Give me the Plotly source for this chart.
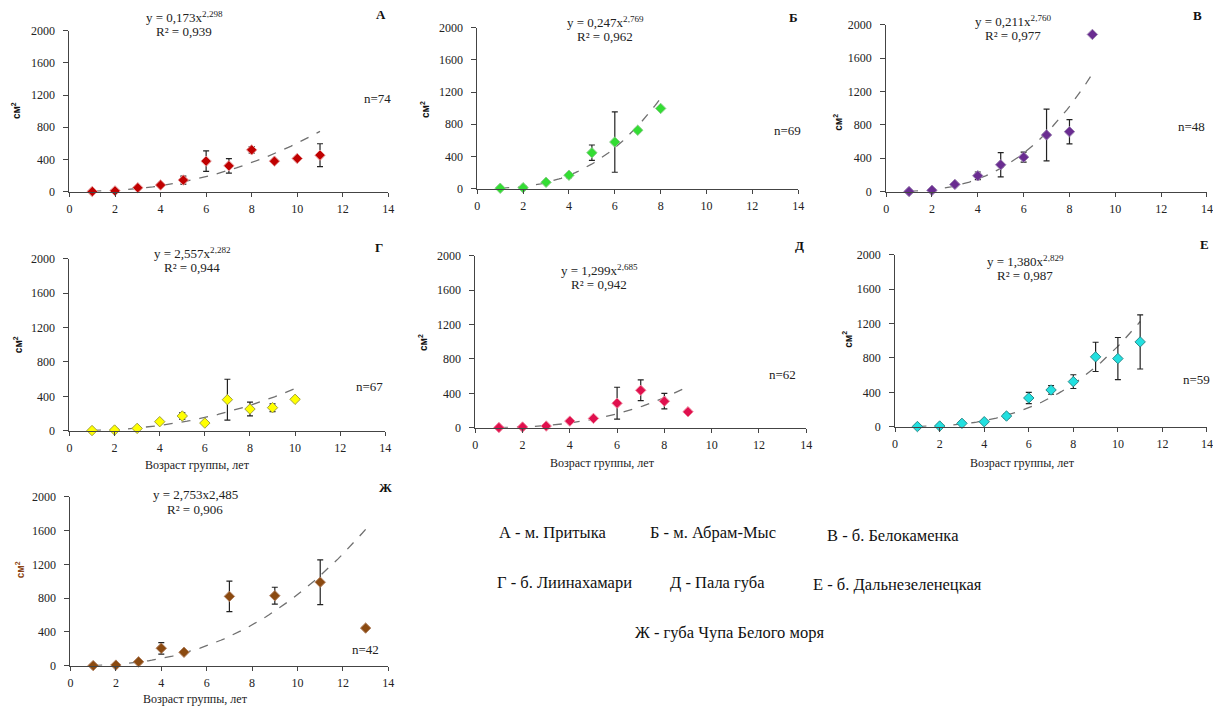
import numpy as np
import plotly.graph_objects as go

W, H = 1213, 709

# ---------------- data ----------------
ages_A = [1, 2, 3, 4, 5, 6, 7, 8, 9, 10, 11]
area_A = [2, 10, 49, 82, 144, 379, 321, 519, 379, 412, 453]
err_A = [0, 5, 10, 10, 50, 128, 90, 40, 0, 15, 142]

ages_B = [1, 2, 3, 4, 5, 6, 7, 8]
area_B = [5, 12, 79, 167, 446, 579, 725, 996]
err_B = [0, 0, 10, 30, 96, 375, 20, 0]

ages_V = [1, 2, 3, 4, 5, 6, 7, 8, 9]
area_V = [2, 16, 87, 190, 322, 413, 679, 718, 1882]
err_V = [0, 0, 10, 45, 145, 60, 310, 145, 0]

ages_G = [1, 2, 3, 4, 5, 6, 7, 8, 9, 10]
area_G = [2, 8, 27, 105, 171, 89, 361, 252, 268, 365]
err_G = [0, 0, 10, 10, 40, 0, 237, 80, 45, 0]

ages_D = [1, 2, 3, 4, 5, 6, 7, 8, 9]
area_D = [2, 8, 19, 77, 108, 285, 435, 308, 185]
err_D = [0, 0, 0, 15, 15, 185, 120, 90, 20]

ages_E = [1, 2, 3, 4, 5, 6, 7, 8, 9, 10, 11]
area_E = [2, 8, 39, 58, 124, 334, 427, 524, 812, 792, 986]
err_E = [0, 0, 10, 10, 25, 65, 50, 80, 170, 245, 315]

ages_Zh = [1, 2, 3, 4, 5, 7, 9, 11, 13]
area_Zh = [2, 8, 47, 207, 160, 821, 829, 989, 446]
err_Zh = [0, 0, 10, 68, 20, 180, 100, 265, 0]

# power trend y = a * x^b as drawn on each panel
trend_a = [3.03, 3.55, 3.28, 2.557, 1.31, 1.385, 2.753]
trend_b = [2.298, 2.769, 2.760, 2.282, 2.685, 2.829, 2.485]

letters = ["А", "Б", "В", "Г", "Д", "Е", "Ж"]
equations = ["y = 0,173x<sup>2,298</sup>", "y = 0,247x<sup>2,769</sup>",
             "y = 0,211x<sup>2,760</sup>", "y = 2,557x<sup>2,282</sup>",
             "y = 1,299x<sup>2,685</sup>", "y = 1,380x<sup>2,829</sup>",
             "y = 2,753x2,485"]
r2_labels = ["R² = 0,939", "R² = 0,962", "R² = 0,977", "R² = 0,944",
             "R² = 0,942", "R² = 0,987", "R² = 0,906"]
n_labels = ["n=74", "n=69", "n=48", "n=67", "n=62", "n=59", "n=42"]
colors = ["#C00000", "#33DD33", "#6A2C91", "#FFFF00", "#E0104E", "#22E0E0", "#8B4A10"]
outlines = ["#E8A0A0", "#88CC88", "#9A80B0", "#A0A040", "#F08AA0", "#2A8A8A", "#B08060"]
xtitle_text = "Возраст группы, лет"
ytitle_text = "<b>см<sup>2</sup></b>"
legend_lines = ["А - м. Притыка", "Б - м. Абрам-Мыс", "В - б. Белокаменка",
                "Г - б. Лиинахамари", "Д - Пала губа", "Е - б. Дальнезеленецкая",
                "Ж - губа Чупа Белого моря"]

ages = [ages_A, ages_B, ages_V, ages_G, ages_D, ages_E, ages_Zh]
areas = [area_A, area_B, area_V, area_G, area_D, area_E, area_Zh]
errs = [err_A, err_B, err_V, err_G, err_D, err_E, err_Zh]

# ---------------- layout geometry (target pixels in the 1213x709 picture) ----------------
boxes = [  # x0, x1, ytop, ybottom
    (67, 386, 31, 192),
    (475, 796, 28, 189),
    (884, 1205, 25, 192),
    (67, 383, 259, 431),
    (473, 804, 256, 428),
    (893, 1205, 255, 427),
    (68, 386, 497, 666),
]
eq_pos = [(182, 17), (603, 22), (1011, 21), (190, 253), (597, 270), (1023, 261), (193, 495)]
r2_gap = 15
letter_pos = [(379, 15), (791, 18), (1196, 16), (377, 248), (797, 246), (1203, 245), (383, 488)]
n_pos = [(375, 99), (785, 131), (1190, 127), (367, 387), (780, 375), (1195, 380), (363, 650)]
ytitle_pos = [(13, 111), (422, 110), (835, 123), (15, 345), (420, 343), (845, 340), (17, 570)]
ytitle_colors = ["#111", "#111", "#111", "#111", "#111", "#111", "#8B4513"]
xtitle_pos = {3: (195, 465), 4: (600, 463), 5: (1020, 463), 6: (193, 699)}
legend_pos = [(550, 533), (711, 533), (891, 536), (562, 583), (715, 583), (895, 585), (727, 633)]

# calibration of rendered picture vs. layout pixels (measured on earlier renders)
SX, OX = 0.993, 0.5
SY, OY = 0.98, 7.4


def px(x):
    return ((x - OX) / SX) / W


def py(y):
    return 1 - ((y - OY) / SY) / H


SERIF = "Times New Roman, Liberation Serif, DejaVu Serif, serif"
SANS = "Arial, Liberation Sans, sans-serif"
fig = go.Figure()
annotations = []


def note(x, y, text, size, family=SERIF, color="#222", angle=0):
    annotations.append(dict(x=px(x), y=py(y), xref="paper", yref="paper", text=text,
                            xanchor="center", yanchor="middle", textangle=angle,
                            showarrow=False, font=dict(family=family, size=size, color=color)))


for i in range(7):
    ax = "" if i == 0 else str(i + 1)
    x0, x1, yt, yb = boxes[i]
    fig.update_layout(**{
        f"xaxis{ax}": dict(domain=[max(0, px(x0)), min(1, px(x1))], range=[0, 14], dtick=2,
                           anchor=f"y{ax}",
                           showline=True, linecolor="#444", linewidth=1, ticks="outside",
                           ticklen=4, tickcolor="#444", showgrid=False, zeroline=False,
                           ticklabelstandoff=2,
                           tickfont=dict(family=SERIF, size=12, color="#222")),
        f"yaxis{ax}": dict(domain=[max(0, py(yb)), min(1, py(yt))], range=[0, 2000], dtick=400,
                           anchor=f"x{ax}",
                           showline=True, linecolor="#444", linewidth=1, ticks="outside",
                           ticklen=5, tickcolor="#444", showgrid=False, zeroline=False,
                           ticklabelstandoff=6,
                           tickfont=dict(family=SERIF, size=12, color="#222")),
    })
    xs = np.array(ages[i], dtype=float)
    tx = np.linspace(xs.min(), xs.max(), 80)
    ty = trend_a[i] * tx ** trend_b[i]
    fig.add_trace(go.Scatter(x=tx, y=ty, mode="lines", xaxis=f"x{ax}", yaxis=f"y{ax}",
                             line=dict(color="#707070", width=1.3, dash="dash"),
                             showlegend=False, hoverinfo="skip"))
    fig.add_trace(go.Scatter(x=ages[i], y=areas[i], mode="markers", xaxis=f"x{ax}", yaxis=f"y{ax}",
                             marker=dict(symbol="diamond", size=8, color=colors[i],
                                         line=dict(color=outlines[i], width=1)),
                             error_y=dict(type="data", array=errs[i], visible=True,
                                          color="#222", thickness=1.2, width=3),
                             cliponaxis=False, showlegend=False, hoverinfo="skip"))
    ex, ey = eq_pos[i]
    note(ex, ey, equations[i], 13)
    note(ex, ey + r2_gap, r2_labels[i], 13)
    lx, ly = letter_pos[i]
    note(lx, ly, f"<b>{letters[i]}</b>", 13, color="#111")
    nx, ny = n_pos[i]
    note(nx, ny, n_labels[i], 13)
    yx, yy = ytitle_pos[i]
    note(yx, yy, ytitle_text, 10, family=SANS, color=ytitle_colors[i], angle=-90)
    if i in xtitle_pos:
        tx_, ty_ = xtitle_pos[i]
        note(tx_, ty_, xtitle_text, 12)

for (lx, ly), txt in zip(legend_pos, legend_lines):
    note(lx, ly, txt, 16.5, color="#111")

fig.update_layout(width=W, height=H, margin=dict(l=0, r=0, t=0, b=0),
                  paper_bgcolor="white", plot_bgcolor="white",
                  annotations=annotations, showlegend=False)

fig.write_html("out.html", config={"displayModeBar": False},
               post_script="document.body.style.margin='0px';")
